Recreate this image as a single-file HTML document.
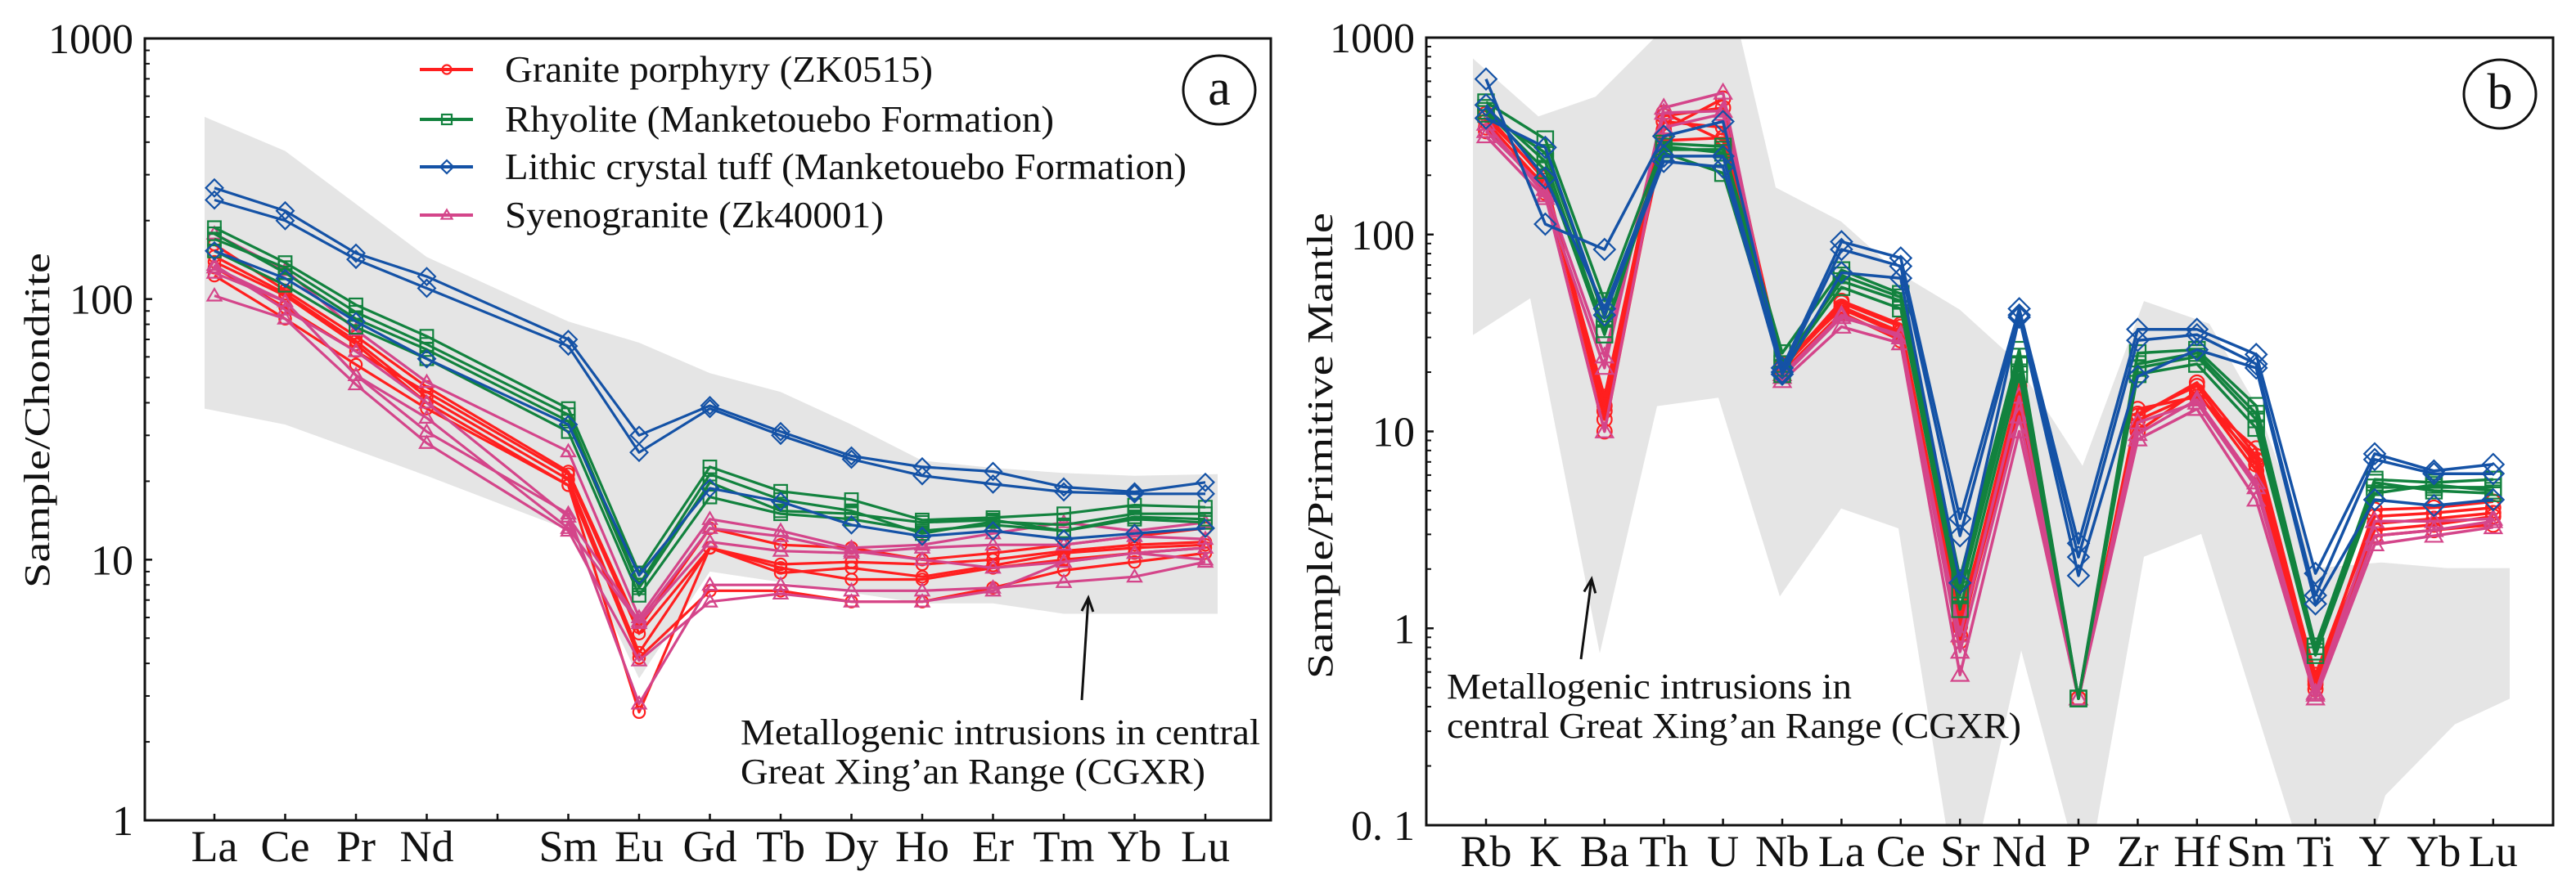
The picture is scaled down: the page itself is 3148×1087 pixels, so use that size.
<!DOCTYPE html>
<html><head><meta charset="utf-8">
<style>
html,body{margin:0;padding:0;background:#fff;overflow:hidden;}
svg{display:block;}
text{font-family:"Liberation Serif","DejaVu Serif",serif;fill:#111;}
</style></head>
<body>
<svg id="fig" width="3148" height="1087" viewBox="0 0 3148 1087" xmlns="http://www.w3.org/2000/svg" font-family="Liberation Serif, serif">
<rect x="0" y="0" width="3148" height="1087" fill="#ffffff"/>
<g id="pa"></g>
<g id="pb"></g>
</svg>
<script>
// ---------- Panel A data ----------
const reeCategories = ["La","Ce","Pr","Nd","Pm","Sm","Eu","Gd","Tb","Dy","Ho","Er","Tm","Yb","Lu"];
const reeLabels = ["La","Ce","Pr","Nd","","Sm","Eu","Gd","Tb","Dy","Ho","Er","Tm","Yb","Lu"];
const reeYTicks = [1,10,100,1000];
const reeYTickLabels = ["1","10","100","1000"];
const reeBlue = [
 [267,218,150,122,null,70,30,39,31,25,22.7,21.8,19,18.2,19.8],
 [240,200,142,110,null,66,25.8,38,30,24.3,21,19.5,18.2,17.9,17.9],
 [153,120,82,59,null,33,8.7,18.8,16.7,13.6,12.3,12.9,12,12.6,13.2]
];
const reeGreen = [
 [188,138,95,72,null,38,8.9,22.7,18.3,17,14.2,14.5,15,16.2,15.9],
 [170,132,89,67,null,36,8,21.3,17,15.4,12.6,14,13.6,15,15],
 [153,113,78,59,null,31,7.3,17.4,15,14.3,12.9,13.6,12.9,14.3,13.9],
 [178,126,84,64,null,34,7.8,19.8,15.4,15,13.9,14.2,12.9,14.6,14.3]
];
const reeRed = [
 [162,108,72,46,null,21.8,5.5,13.2,11.4,11.1,10,10.6,11.4,12.3,13.2],
 [146,105,69,42,null,20.3,4.4,11.1,9.6,9.8,9.6,10,10.8,11.4,11.7],
 [139,103,67,40,null,19.3,2.6,11.1,9.3,8.4,8.4,9.3,10,10.6,11.1],
 [123,84,56,38,null,19.3,4.2,7.6,7.6,6.9,6.9,7.8,9.1,9.8,10.6],
 [132,93,63,44,null,21.3,5.2,11.1,8.9,9.3,8.6,9.5,10.6,11.1,11.4]
];
const reePink = [
 [178,129,76,48,null,26,6,14.3,12.9,11.1,11.4,12.6,13.9,12.9,13.9],
 [132,98,51,31,null,15,2.8,8,8,7.6,7.6,7.8,8.2,8.6,9.8],
 [103,84,47,28,null,12.9,4.1,6.9,7.4,6.9,6.9,7.6,9.8,10.6,10],
 [126,98,51,35,null,13.2,5.7,11.7,10.8,10.6,11.1,11.4,11.4,12.3,12],
 [135,91,63,40,null,14.6,5.8,13.2,12.3,10.8,10,9.3,9.8,10.6,11.1]
];
const reeFieldUpper = [500,370,null,145,null,82,68,52,44,33,24,22.5,21.5,21,21.3];
const reeFieldLower = [38,33,null,21,null,13,3.5,9,null,null,6.8,6.8,6.2,6.2,6.2];

// ---------- Panel B data ----------
const pmCategories = ["Rb","K","Ba","Th","U","Nb","La","Ce","Sr","Nd","P","Zr","Hf","Sm","Ti","Y","Yb","Lu"];
const pmYTicks = [0.1,1,10,100,1000];
const pmYTickLabels = ["0. 1","1","10","100","1000"];
const pmBlue = [
 [616,113,84,316,375,21,92,76,3.6,42,2.7,33,33,24.6,1.9,7.7,6.3,6.8],
 [455,194,42,250,250,20,84,69,2.95,39,2.3,29,31,22,1.47,7.2,6.1,6.1],
 [390,277,39,235,220,19.5,64,60,1.7,38,1.85,19,26,21,1.33,4.5,4.2,4.5]
];
const pmGreen = [
 [470,305,46,290,280,25,66,50,1.8,26,0.44,25,26,13.5,0.81,5.7,5.5,5.7],
 [410,260,38,270,270,22,58,46,1.47,22,0.44,22,25,12.3,0.76,5.2,5.2,5.2],
 [440,235,33,260,205,21,54,42,1.25,19.5,0.44,19.5,22,10.4,0.73,4.85,5.35,5.0],
 [425,212,31,280,260,19.5,62,48,1.57,24,0.44,21,24,11.5,0.81,5.5,5.0,4.85]
];
const pmRed = [
 [410,188,11.5,400,440,22,42,31,0.86,16,0.44,12.3,17,6.8,0.54,4,4.1,4.4],
 [375,175,15,375,350,21,46,35,1.05,17,0.44,11.4,15.5,7.2,0.58,3.7,3.85,4.1],
 [350,163,10,340,490,20,40,29,0.92,13,0.44,10,16,6.3,0.49,3.4,3.6,3.85],
 [390,194,12.7,300,310,21.5,45,34,1.02,15,0.44,13,15,8.2,0.56,3.15,3.36,3.7],
 [335,180,13.5,415,300,21,43,32,1.13,14.5,0.44,12,17.7,7.5,0.52,2.95,3.15,3.36]
];
const pmPink = [
 [315,153,21,440,525,18,34,28,0.58,10,0.44,9.1,13,4.5,0.44,2.67,2.95,3.26],
 [335,170,24,415,425,18.9,38,31,0.76,11.9,0.44,11.1,14,5.2,0.46,2.95,3.15,3.5],
 [365,158,10,350,410,19.5,39,30,0.92,15,0.44,9.7,14.5,5.5,0.47,3.5,3.5,3.6]
];

const NS="http://www.w3.org/2000/svg";
function mk(tag, attrs, parent){const e=document.createElementNS(NS,tag);for(const k in attrs)e.setAttribute(k,attrs[k]);parent.appendChild(e);return e;}

const COL={red:"#ff1f1f",green:"#12823e",blue:"#1452a6",pink:"#d4458a"};
const KY=0.6946;

function marker(g,type,x,y,s,color){
  let e;
  if(type==="circle"){e=mk("circle",{cx:x,cy:y,r:s*0.55,fill:"none",stroke:color,"stroke-width":2.2},g);}
  else if(type==="square"){e=mk("rect",{x:x-s*0.6,y:y-s*0.6,width:s*1.2,height:s*1.2,fill:"none",stroke:color,"stroke-width":2.2},g);}
  else if(type==="diamond"){const r=s*0.8;e=mk("polygon",{points:`${x},${y-r} ${x+r},${y} ${x},${y+r} ${x-r},${y}`,fill:"none",stroke:color,"stroke-width":2.2},g);}
  else {const r=s*0.65;e=mk("polygon",{points:`${x},${y-r} ${x+r},${y+r*0.7} ${x-r},${y+r*0.7}`,fill:"none",stroke:color,"stroke-width":2.2},g);}
  
  
  return e;
}

function drawPanel(cfg){
  const root=document.getElementById(cfg.id);
  const {L,R,T,B,ymin,ymax}=cfg;
  const dec=Math.log10(ymax)-Math.log10(ymin);
  const yS=v=>B-(Math.log10(v)-Math.log10(ymin))/dec*(B-T);
  const xS=i=>cfg.x0+i*cfg.dx;
  const clipId=cfg.id+"clip";
  const defs=mk("defs",{},root);
  const cp=mk("clipPath",{id:clipId},defs);
  mk("rect",{x:L,y:T,width:R-L,height:B-T},cp);
  const fld=mk("polygon",{points:cfg.fieldPts(xS,yS),fill:"#e5e5e5","clip-path":`url(#${clipId})`},root);
  
  
  const groups=[["red","circle",cfg.red,"granite-porphyry"],["pink","triangle",cfg.pink,"syenogranite"],["green","square",cfg.green,"rhyolite"],["blue","diamond",cfg.blue,"lithic-crystal-tuff"]];
  groups.forEach(([c,m,arr,name])=>{
    const g=mk("g",{"clip-path":`url(#${clipId})`},root);
    
    
    arr.forEach(vals=>{
      const pts=[];
      vals.forEach((v,i)=>{if(v!=null)pts.push(xS(i).toFixed(1)+","+yS(v).toFixed(1));});
      const pl=mk("polyline",{points:pts.join(" "),fill:"none",stroke:COL[c],"stroke-width":cfg.lw,"stroke-linejoin":"round"},g);
      
      
      vals.forEach((v,i)=>{if(v!=null)marker(g,m,xS(i),yS(v),cfg.ms,COL[c]);});
    });
  });
  const fr=mk("rect",{x:L,y:T,width:R-L,height:B-T,fill:"none",stroke:"#111","stroke-width":3},root);
  
  
  const lo=Math.round(Math.log10(ymin)),hi=Math.round(Math.log10(ymax));
  for(let d=lo;d<hi;d++){for(let k=2;k<10;k++){const y=yS(k*Math.pow(10,d));const t=mk("line",{x1:L,x2:L+6,y1:y,y2:y,stroke:"#111","stroke-width":2},root);}}
  cfg.yticks.forEach((v,i)=>{
    const y=yS(v);
    const t=mk("line",{x1:L,x2:L+9,y1:y,y2:y,stroke:"#111","stroke-width":2.5},root);
    
    
    const tx=mk("text",{x:L-14,y:y+18,"text-anchor":"end","font-size":cfg.tfs},root);
    tx.textContent=cfg.ytl[i];
    
    
  });
  cfg.xl.forEach((lab,i)=>{
    const x=xS(i);
    const t=mk("line",{x1:x,x2:x,y1:B,y2:B-8,stroke:"#111","stroke-width":2.5},root);
    
    
    if(lab){
      const tx=mk("text",{x:x,y:B+50,"text-anchor":"middle","font-size":cfg.xfs},root);
      tx.textContent=lab;
      
      
    }
  });
  const yt=mk("text",{x:0,y:0,"text-anchor":"middle","font-size":cfg.ytfs,textLength:cfg.ytlen,lengthAdjust:"spacingAndGlyphs",transform:`translate(${cfg.ytx},${cfg.yty}) rotate(-90)`},root);
  yt.textContent=cfg.ytitle;
  
  
  const pc=mk("ellipse",{cx:cfg.lx,cy:cfg.ly,rx:44,ry:42,fill:"#fff",stroke:"#111","stroke-width":3},root);
  
  
  const pl=mk("text",{x:cfg.lx,y:cfg.ly+18,"text-anchor":"middle","font-size":62},root);
  pl.textContent=cfg.letter;
  
  
  cfg.ann.forEach((ln,i)=>{
    const tx=mk("text",{x:cfg.annx,y:cfg.anny+i*48,"font-size":44,textLength:cfg.annw[i],lengthAdjust:"spacingAndGlyphs"},root);
    tx.textContent=ln;
    
    
  });
  const ar=cfg.arrow;
  const al=mk("line",{x1:ar[0],y1:ar[1],x2:ar[2],y2:ar[3],stroke:"#111","stroke-width":3},root);
  
  
  const ang=Math.atan2(ar[3]-ar[1],ar[2]-ar[0]);
  const hx=ar[2],hy=ar[3],h=18;
  const ah=mk("polyline",{points:`${hx-h*Math.cos(ang-0.4)},${hy-h*Math.sin(ang-0.4)} ${hx},${hy} ${hx-h*Math.cos(ang+0.4)},${hy-h*Math.sin(ang+0.4)}`,fill:"none",stroke:"#111","stroke-width":3},root);
  
  
  return {xS,yS,root};
}

const A=drawPanel({id:"pa",L:177,R:1553,T:47,B:1003,ymin:1,ymax:1000,x0:262,dx:86.5,lw:3.2,ms:13,
  red:reeRed,green:reeGreen,blue:reeBlue,pink:reePink,yticks:reeYTicks,ytl:reeYTickLabels,xl:reeLabels,
  tfs:52,xfs:54,ytfs:44,ytlen:410,ytitle:"Sample/Chondrite",ytx:60,yty:514,lx:1490,ly:110,letter:"a",
  ann:["Metallogenic intrusions in central","Great Xing’an Range (CGXR)"],annx:905,anny:910,annw:[635,568],
  arrow:[1322,856,1330,731],
  fieldPts:(xS,yS)=>{
    const up=[[250,reeFieldUpper[0]],[xS(1),reeFieldUpper[1]],[xS(3),reeFieldUpper[3]],[xS(5),reeFieldUpper[5]],[xS(6),reeFieldUpper[6]],[xS(7),reeFieldUpper[7]],[xS(8),reeFieldUpper[8]],[xS(9),reeFieldUpper[9]],[xS(10),reeFieldUpper[10]],[xS(11),reeFieldUpper[11]],[xS(12),reeFieldUpper[12]],[xS(13),reeFieldUpper[13]],[1488,reeFieldUpper[14]]];
    const lo=[[1488,reeFieldLower[14]],[xS(13),reeFieldLower[13]],[xS(12),reeFieldLower[12]],[xS(11),reeFieldLower[11]],[xS(10),reeFieldLower[10]],[xS(7),reeFieldLower[7]],[xS(6),reeFieldLower[6]],[xS(5),reeFieldLower[5]],[xS(3),reeFieldLower[3]],[xS(1),reeFieldLower[1]],[250,reeFieldLower[0]]];
    return up.concat(lo).map(p=>p[0].toFixed(1)+","+yS(p[1]).toFixed(1)).join(" ");
  }});
(function(){
  const root=A.root;
  const items=[["red","circle","Granite porphyry (ZK0515)",85,523],["green","square","Rhyolite (Manketouebo Formation)",146,671],["blue","diamond","Lithic crystal tuff (Manketouebo Formation)",204,833],["pink","triangle","Syenogranite (Zk40001)",263,463]];
  items.forEach(([c,m,lab,y,w])=>{
    const g=mk("g",{},root);
    
    
    mk("line",{x1:513,x2:578,y1:y,y2:y,stroke:COL[c],"stroke-width":4},g);
    marker(g,m,546,y,10,COL[c]);
    const t=mk("text",{x:617,y:y+15,"font-size":46,textLength:w,lengthAdjust:"spacingAndGlyphs"},g);
    t.textContent=lab;
  });
})();

drawPanel({id:"pb",L:1743,R:3120,T:46,B:1009,ymin:0.1,ymax:1000,x0:1816,dx:72.4,lw:3.5,ms:16,
  red:pmRed,green:pmGreen,blue:pmBlue,pink:pmPink,yticks:pmYTicks,ytl:pmYTickLabels,xl:pmCategories,
  tfs:52,xfs:54,ytfs:44,ytlen:570,ytitle:"Sample/Primitive Mantle",ytx:1628,yty:545,lx:3055,ly:115,letter:"b",
  ann:["Metallogenic intrusions in","central Great Xing’an Range (CGXR)"],annx:1768,anny:854,annw:[495,702],
  arrow:[1932,806,1945,708],
  fieldPts:(xS,yS)=>{
    const o=1580;
    const pts=[[220,103],[300,205],[370,170],[450,55],[500,-100],[520,-100],[590,330],[670,390],[740,480],[815,545],[880,630],[965,820],[1040,530],[1120,570],[1180,720],[1250,1000],[1330,990],[1410,1000],[1487,1000],
      [1487,1230],[1420,1275],[1335,1400],[1320,1470],[1225,1470],[1110,940],[1040,980],[980,1470],[950,1470],[890,1145],[840,1470],[800,1470],[740,930],[670,895],[595,1050],[520,700],[445,715],[375,1150],[290,525],[220,590]];
    return pts.map(p=>(p[0]+o)+","+(p[1]*KY).toFixed(1)).join(" ");
  }});
</script>
</body></html>
